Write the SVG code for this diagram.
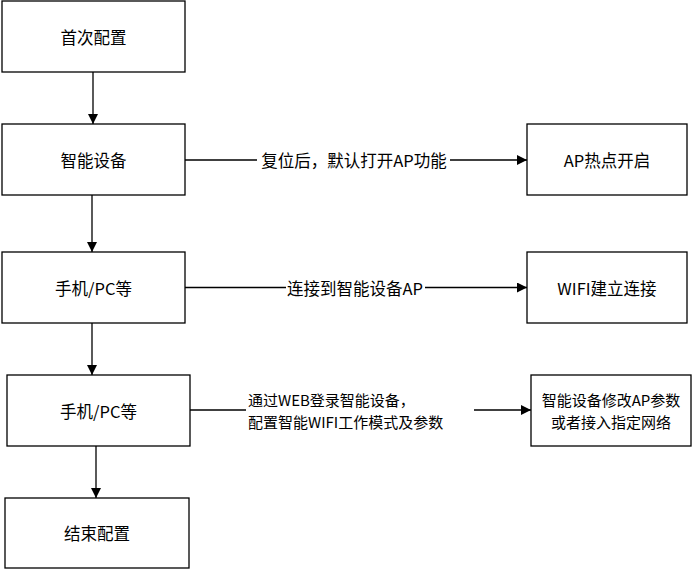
<svg xmlns="http://www.w3.org/2000/svg" width="694" height="571" viewBox="0 0 694 571">
<style>
.box{fill:#fff;stroke:#000;stroke-width:1.3}
.t{font-family:"Noto Sans CJK SC","Noto Sans",sans-serif;font-size:16.5px;fill:#000;text-anchor:middle;dominant-baseline:central}
.t2{font-family:"Noto Sans CJK SC","Noto Sans",sans-serif;font-size:15px;fill:#000;text-anchor:middle;dominant-baseline:central}
.tl{font-family:"Noto Sans CJK SC","Noto Sans",sans-serif;font-size:15px;fill:#000;dominant-baseline:central}
.ln{stroke:#000;stroke-width:1.3;fill:none;marker-end:url(#ah)}
.lbg{fill:#fff}
</style>
<defs>
<marker id="ah" markerUnits="userSpaceOnUse" markerWidth="10" markerHeight="10" refX="10" refY="5" orient="auto">
<path d="M0,0 L10,5 L0,10 z" fill="#000"/>
</marker>
</defs>
<rect width="694" height="571" fill="#fff"/>
<g id="connectors">
<line class="ln" x1="93" y1="72" x2="93" y2="124"/>
<line class="ln" x1="92" y1="195" x2="92" y2="252"/>
<line class="ln" x1="92" y1="323" x2="92" y2="375"/>
<line class="ln" x1="96" y1="446" x2="96" y2="498"/>
<line class="ln" x1="185" y1="160" x2="527" y2="160"/>
<rect class="lbg" x="257" y="150" width="193" height="20"/>
<text class="t" x="354" y="160">复位后，默认打开AP功能</text>
<line class="ln" x1="185" y1="287.5" x2="527" y2="287.5"/>
<rect class="lbg" x="286" y="277" width="139" height="20"/>
<text class="t" x="355" y="287.5">连接到智能设备AP</text>
<line class="ln" x1="190" y1="410" x2="531" y2="410"/>
<rect class="lbg" x="246" y="389" width="228" height="43"/>
<text class="tl" x="248" y="399">通过WEB登录智能设备，</text>
<text class="tl" x="248" y="421">配置智能WIFI工作模式及参数</text>
</g>
<g id="n1"><rect class="box" x="2" y="1" width="183" height="71"/><text class="t" x="93.5" y="37">首次配置</text></g>
<g id="n2"><rect class="box" x="2" y="124" width="183" height="71"/><text class="t" x="93.5" y="160">智能设备</text></g>
<g id="n3"><rect class="box" x="2" y="252" width="183" height="71"/><text class="t" x="93.5" y="288">手机/PC等</text></g>
<g id="n4"><rect class="box" x="7" y="375" width="183" height="71"/><text class="t" x="98.5" y="411">手机/PC等</text></g>
<g id="n5"><rect class="box" x="5" y="498" width="184" height="70"/><text class="t" x="97" y="533">结束配置</text></g>
<g id="n6"><rect class="box" x="527" y="124" width="160" height="71"/><text class="t" x="607" y="160">AP热点开启</text></g>
<g id="n7"><rect class="box" x="527" y="252" width="160" height="71"/><text class="t" x="607" y="288">WIFI建立连接</text></g>
<g id="n8"><rect class="box" x="531" y="375" width="160" height="71"/><text class="t2" x="611" y="399">智能设备修改AP参数</text><text class="t2" x="611" y="421">或者接入指定网络</text></g>
</svg>
